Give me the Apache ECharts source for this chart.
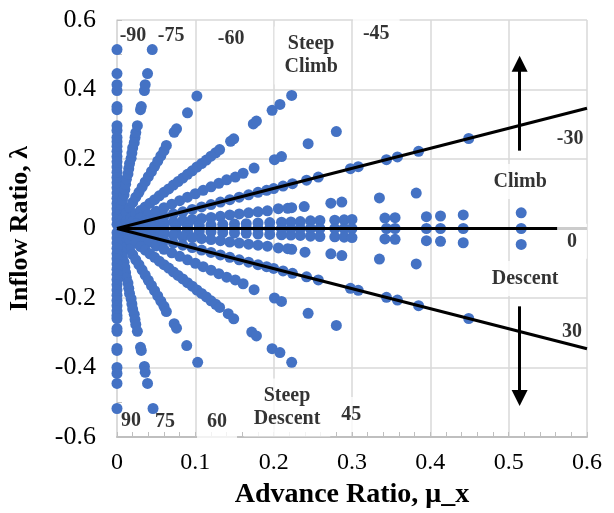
<!DOCTYPE html>
<html>
<head>
<meta charset="utf-8">
<script src="https://cdn.jsdelivr.net/npm/echarts@6/dist/echarts.min.js"></script>
<style>
  html, body { margin: 0; padding: 0; background: #fff; }
  #chart { width: 614px; height: 513px; }
</style>
</head>
<body>
<div id="chart"></div>
<script>
// Axis ticks and their labels
const xTicks = [0, 0.1, 0.2, 0.3, 0.4, 0.5, 0.6];
const xTickLabels = ['0', '0.1', '0.2', '0.3', '0.4', '0.5', '0.6'];
const yTicks = [-0.6, -0.4, -0.2, 0, 0.2, 0.4, 0.6];
const yTickLabels = ['-0.6', '-0.4', '-0.2', '0', '0.2', '0.4', '0.6'];

// Operating points [advance ratio mu_x, inflow ratio lambda], grouped by ray (angle of attack)
const climb90 = [[0,0.012],[0,0.027],[0,0.042],[0,0.057],[0,0.072],[0,0.087],[0,0.102],[0,0.117],[0,0.132],[0,0.147],[0,0.162],[0,0.177],[0,0.192],[0,0.207],[0,0.222],[0,0.237],[0,0.250],[0,0.262],[0,0.282],[0,0.296],[0,0.342],[0,0.351],[0,0.397],[0,0.414],[0,0.446],[0,0.515]];
const climb85 = [[0.002,0.022],[0.003,0.037],[0.005,0.052],[0.006,0.067],[0.007,0.082],[0.009,0.097],[0.010,0.112],[0.011,0.127],[0.012,0.142],[0.014,0.157],[0.015,0.172],[0.016,0.187],[0.018,0.202],[0.019,0.217],[0.020,0.232],[0.022,0.247],[0.023,0.262],[0.024,0.276],[0.026,0.296],[0.030,0.342],[0.031,0.351],[0.035,0.397],[0.036,0.414],[0.039,0.446],[0.045,0.515]];
const climb75 = [[0.004,0.016],[0.008,0.030],[0.012,0.045],[0.016,0.060],[0.020,0.075],[0.024,0.090],[0.028,0.104],[0.032,0.119],[0.036,0.134],[0.040,0.149],[0.044,0.164],[0.048,0.179],[0.052,0.194],[0.056,0.209],[0.060,0.224],[0.063,0.239],[0.073,0.277],[0.076,0.287],[0.090,0.333],[0.102,0.381]];
const climb60 = [[0.006,0.010],[0.012,0.021],[0.018,0.031],[0.024,0.042],[0.030,0.052],[0.036,0.062],[0.042,0.073],[0.048,0.083],[0.054,0.094],[0.060,0.104],[0.066,0.114],[0.072,0.125],[0.078,0.135],[0.084,0.145],[0.090,0.156],[0.096,0.166],[0.102,0.177],[0.108,0.187],[0.114,0.197],[0.120,0.208],[0.126,0.218],[0.131,0.227],[0.145,0.251],[0.149,0.258],[0.174,0.301],[0.178,0.309],[0.198,0.340],[0.208,0.357],[0.223,0.383]];
const climb45 = [[0.010,0.010],[0.020,0.020],[0.030,0.030],[0.040,0.040],[0.050,0.050],[0.060,0.060],[0.070,0.070],[0.080,0.080],[0.090,0.090],[0.100,0.100],[0.110,0.110],[0.120,0.120],[0.130,0.130],[0.140,0.140],[0.151,0.148],[0.161,0.159],[0.175,0.174],[0.201,0.198],[0.210,0.207],[0.244,0.244],[0.280,0.279]];
const climb30 = [[0.012,0.007],[0.024,0.014],[0.036,0.021],[0.048,0.028],[0.060,0.035],[0.072,0.042],[0.084,0.048],[0.096,0.055],[0.108,0.062],[0.120,0.069],[0.132,0.076],[0.144,0.083],[0.156,0.090],[0.168,0.097],[0.180,0.104],[0.191,0.110],[0.200,0.115],[0.212,0.122],[0.224,0.129],[0.242,0.139],[0.257,0.148],[0.298,0.172],[0.308,0.178],[0.344,0.198],[0.358,0.206],[0.385,0.222],[0.449,0.259]];
const climb15 = [[0.012,0.003],[0.024,0.006],[0.036,0.010],[0.048,0.013],[0.060,0.016],[0.072,0.019],[0.084,0.023],[0.096,0.026],[0.108,0.029],[0.120,0.032],[0.132,0.035],[0.144,0.039],[0.156,0.042],[0.168,0.045],[0.180,0.048],[0.192,0.051],[0.206,0.057],[0.218,0.058],[0.223,0.060],[0.239,0.063],[0.273,0.073],[0.287,0.076],[0.335,0.088],[0.382,0.102]];
const climb5 = [[0.030,0.003],[0.045,0.004],[0.060,0.005],[0.075,0.007],[0.090,0.008],[0.105,0.009],[0.120,0.010],[0.135,0.012],[0.150,0.013],[0.165,0.014],[0.180,0.016],[0.195,0.017],[0.210,0.018],[0.222,0.019],[0.234,0.020],[0.247,0.022],[0.259,0.023],[0.278,0.024],[0.290,0.025],[0.300,0.026],[0.342,0.030],[0.355,0.031],[0.395,0.034],[0.413,0.036],[0.442,0.039],[0.516,0.045]];
const level0 = [[0.015,0],[0.030,0],[0.045,0],[0.060,0],[0.075,0],[0.090,0],[0.105,0],[0.120,0],[0.135,0],[0.150,0],[0.165,0],[0.180,0],[0.195,0],[0.210,0],[0.222,0],[0.234,0],[0.247,0],[0.259,0],[0.278,0],[0.290,0],[0.300,0],[0.344,0],[0.355,0],[0.395,0],[0.413,0],[0.442,0],[0.516,0]];
const descent5 = [[0.030,-0.003],[0.045,-0.004],[0.060,-0.005],[0.075,-0.007],[0.090,-0.008],[0.105,-0.009],[0.120,-0.010],[0.135,-0.012],[0.150,-0.013],[0.165,-0.014],[0.180,-0.016],[0.195,-0.017],[0.210,-0.018],[0.222,-0.019],[0.234,-0.020],[0.247,-0.022],[0.259,-0.023],[0.278,-0.024],[0.290,-0.025],[0.300,-0.026],[0.342,-0.030],[0.355,-0.031],[0.395,-0.035],[0.413,-0.037],[0.442,-0.041],[0.516,-0.046]];
const descent15 = [[0.012,-0.003],[0.024,-0.006],[0.036,-0.010],[0.048,-0.013],[0.060,-0.016],[0.072,-0.019],[0.084,-0.023],[0.096,-0.026],[0.108,-0.029],[0.120,-0.032],[0.132,-0.035],[0.144,-0.039],[0.156,-0.042],[0.168,-0.045],[0.180,-0.048],[0.192,-0.051],[0.206,-0.056],[0.218,-0.058],[0.223,-0.060],[0.240,-0.068],[0.273,-0.073],[0.287,-0.078],[0.335,-0.088],[0.382,-0.102]];
const descent30 = [[0.012,-0.007],[0.024,-0.014],[0.036,-0.021],[0.048,-0.028],[0.060,-0.035],[0.072,-0.042],[0.084,-0.048],[0.096,-0.055],[0.108,-0.062],[0.120,-0.069],[0.132,-0.076],[0.144,-0.083],[0.156,-0.090],[0.168,-0.097],[0.180,-0.104],[0.191,-0.110],[0.200,-0.115],[0.212,-0.122],[0.224,-0.129],[0.242,-0.139],[0.257,-0.148],[0.298,-0.172],[0.308,-0.178],[0.344,-0.198],[0.358,-0.206],[0.385,-0.222],[0.449,-0.259]];
const descent45 = [[0.010,-0.010],[0.020,-0.020],[0.030,-0.030],[0.040,-0.040],[0.050,-0.050],[0.060,-0.060],[0.070,-0.070],[0.080,-0.080],[0.090,-0.090],[0.100,-0.100],[0.110,-0.110],[0.120,-0.120],[0.130,-0.130],[0.140,-0.140],[0.151,-0.148],[0.161,-0.159],[0.175,-0.176],[0.201,-0.200],[0.210,-0.210],[0.244,-0.244],[0.280,-0.279]];
const descent60 = [[0.006,-0.010],[0.012,-0.021],[0.018,-0.031],[0.024,-0.042],[0.030,-0.052],[0.036,-0.062],[0.042,-0.073],[0.048,-0.083],[0.054,-0.094],[0.060,-0.104],[0.066,-0.114],[0.072,-0.125],[0.078,-0.135],[0.084,-0.145],[0.090,-0.156],[0.096,-0.166],[0.102,-0.177],[0.108,-0.187],[0.114,-0.197],[0.120,-0.208],[0.126,-0.218],[0.131,-0.227],[0.142,-0.245],[0.149,-0.260],[0.172,-0.298],[0.178,-0.309],[0.198,-0.346],[0.208,-0.357],[0.223,-0.385]];
const descent75 = [[0.004,-0.016],[0.008,-0.030],[0.012,-0.045],[0.016,-0.060],[0.020,-0.075],[0.024,-0.090],[0.028,-0.104],[0.032,-0.119],[0.036,-0.134],[0.040,-0.149],[0.044,-0.164],[0.048,-0.179],[0.052,-0.194],[0.056,-0.209],[0.060,-0.224],[0.063,-0.239],[0.073,-0.274],[0.076,-0.287],[0.089,-0.337],[0.103,-0.385]];
const descent85 = [[0.002,-0.022],[0.003,-0.037],[0.005,-0.052],[0.006,-0.067],[0.007,-0.082],[0.009,-0.097],[0.010,-0.112],[0.011,-0.127],[0.012,-0.142],[0.014,-0.157],[0.015,-0.172],[0.016,-0.187],[0.018,-0.202],[0.019,-0.217],[0.020,-0.232],[0.022,-0.247],[0.023,-0.262],[0.024,-0.276],[0.026,-0.296],[0.030,-0.342],[0.031,-0.351],[0.035,-0.397],[0.036,-0.414],[0.039,-0.446],[0.046,-0.518]];
const descent90 = [[0,-0.012],[0,-0.027],[0,-0.042],[0,-0.057],[0,-0.072],[0,-0.087],[0,-0.102],[0,-0.117],[0,-0.132],[0,-0.147],[0,-0.162],[0,-0.177],[0,-0.192],[0,-0.207],[0,-0.222],[0,-0.237],[0,-0.250],[0,-0.259],[0,-0.288],[0,-0.296],[0,-0.345],[0,-0.351],[0,-0.400],[0,-0.417],[0,-0.446],[0,-0.518]];

// Boundary lines between flight regimes (angle of attack -30, 0, 30 deg)
const climbBoundary = [[0, 0], [0.6, 0.346]];
const levelBoundary = [[0, 0], [0.6, 0]];
const descentBoundary = [[0, 0], [0.6, -0.346]];

// Direction arrows [start, tip]
const climbArrow = [[0.514, 0.224], [0.514, 0.474]];
const descentArrow = [[0.514, -0.224], [0.514, -0.488]];

// Text annotations [mu_x, lambda, text, boxed]
const annotations = [
  [0.0204, 0.555, '-90', false],
  [0.069, 0.555, '-75', false],
  [0.1456, 0.547, '-60', false],
  [0.2478, 0.498, 'Steep\nClimb', true],
  [0.331, 0.561, '-45', true],
  [0.5785, 0.259, '-30', false],
  [0.5147, 0.135, 'Climb', true],
  [0.581, -0.037, '0', true],
  [0.521, -0.144, 'Descent', true],
  [0.581, -0.296, '30', false],
  [0.299, -0.535, '45', true],
  [0.217, -0.515, 'Steep\nDescent', true],
  [0.0179, -0.553, '90', false],
  [0.0613, -0.555, '75', false],
  [0.1277, -0.555, '60', true]
];

const points = [].concat(
  climb90, climb85, climb75, climb60, climb45, climb30, climb15, climb5,
  level0,
  descent5, descent15, descent30, descent45, descent60, descent75, descent85, descent90
);

const serif = "'Liberation Serif', 'Times New Roman', serif";
const gridColor = '#d9d9d9';
const axisColor = '#bfbfbf';

function tickLabel(ticks, labels) {
  return function (v) {
    let best = 0;
    for (let i = 1; i < ticks.length; i++) {
      if (Math.abs(ticks[i] - v) < Math.abs(ticks[best] - v)) best = i;
    }
    return labels[best];
  };
}

function boundary(data) {
  return {
    type: 'line', data: data, symbol: 'none', z: 4, silent: true,
    lineStyle: { color: '#000', width: 3 }
  };
}

const chart = echarts.init(document.getElementById('chart'), null, { renderer: 'canvas' });
chart.setOption({
  animation: false,
  backgroundColor: '#fff',
  grid: { left: 117, right: 27, top: 20, bottom: 76, containLabel: false, outerBoundsMode: 'none' },
  xAxis: {
    type: 'value',
    min: xTicks[0], max: xTicks[xTicks.length - 1], interval: 0.1,
    name: 'Advance Ratio, μ_x',
    nameLocation: 'middle', nameGap: 44,
    nameTextStyle: { fontFamily: serif, fontWeight: 'bold', fontSize: 28, color: '#000' },
    axisLine: { show: true, onZero: false, lineStyle: { color: axisColor, width: 2 } },
    axisTick: { show: true, inside: true, length: 5, lineStyle: { color: axisColor } },
    minorTick: { show: true, splitNumber: 5, length: 5, lineStyle: { color: axisColor } },
    splitLine: { show: true, lineStyle: { color: gridColor, width: 1.5 } },
    axisLabel: { fontFamily: serif, fontSize: 24, color: '#000', margin: 14, showMinLabel: true, showMaxLabel: true,
      formatter: tickLabel(xTicks, xTickLabels) }
  },
  yAxis: {
    type: 'value',
    min: yTicks[0], max: yTicks[yTicks.length - 1], interval: 0.2,
    name: 'Inflow Ratio, λ',
    nameLocation: 'middle', nameGap: 84,
    nameTextStyle: { fontFamily: serif, fontWeight: 'bold', fontSize: 26, color: '#000' },
    axisLine: { show: true, onZero: false, lineStyle: { color: gridColor, width: 1.5 } },
    axisTick: { show: true, inside: true, length: 5, lineStyle: { color: axisColor } },
    minorTick: { show: true, splitNumber: 2, length: 5, lineStyle: { color: axisColor } },
    splitLine: { show: true, lineStyle: { color: gridColor, width: 1.5 } },
    axisLabel: { fontFamily: serif, fontSize: 26, color: '#000', margin: 21, showMinLabel: true, showMaxLabel: true,
      formatter: tickLabel(yTicks, yTickLabels) }
  },
  series: [
    {
      type: 'scatter', data: points, symbolSize: 11, z: 2,
      itemStyle: { color: '#4472C4', opacity: 1 }
    },
    boundary(climbBoundary),
    boundary(levelBoundary),
    boundary(descentBoundary),
    {
      type: 'line', data: [], z: 5, silent: true,
      markLine: {
        silent: true, animation: false,
        symbol: ['none', 'triangle'], symbolSize: [16, 16],
        label: { show: false },
        lineStyle: { color: '#000', width: 3, type: 'solid' },
        data: [
          [{ coord: climbArrow[0] }, { coord: climbArrow[1] }],
          [{ coord: descentArrow[0] }, { coord: descentArrow[1] }]
        ]
      }
    },
    {
      type: 'scatter', z: 6, silent: true, symbolSize: 1,
      itemStyle: { color: 'rgba(255,255,255,0)' },
      data: annotations.map(a => ({
        value: [a[0], a[1]],
        label: {
          show: true, position: 'inside', formatter: a[2],
          fontFamily: serif, fontWeight: 'bold', fontSize: 20, lineHeight: 23, color: '#000',
          backgroundColor: a[3] ? '#fff' : 'transparent',
          padding: a[3] ? [6, 10] : 0
        }
      }))
    }
  ]
});
</script>
</body>
</html>
